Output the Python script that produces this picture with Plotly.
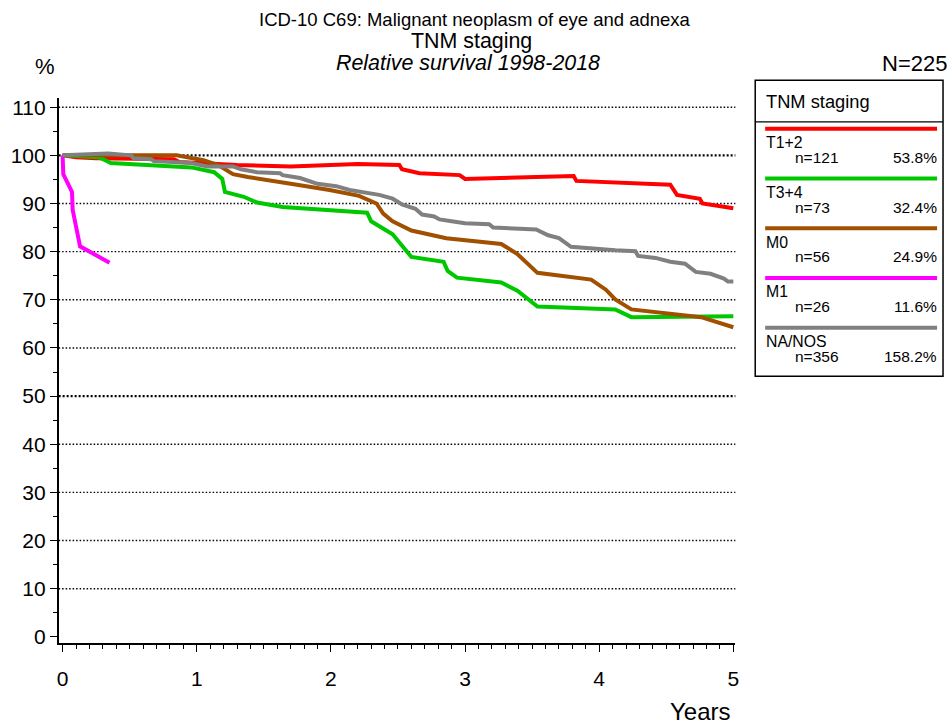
import plotly.graph_objects as go

W, H = 951, 728

# Relative survival curves (years, percent)
t12_years = [0, 0.10, 0.25, 0.83, 0.87, 1.30, 1.70, 2.20, 2.51, 2.53, 2.66, 2.96, 3.00, 3.81, 3.83, 4.27, 4.53, 4.58, 4.75, 4.77, 5.00]
t12_surv = [100, 99.6, 99.4, 99.2, 98.6, 98.0, 97.7, 98.2, 98.0, 97.1, 96.3, 95.9, 95.1, 95.7, 94.7, 94.3, 93.9, 91.8, 91.0, 90.0, 89.0]

t34_years = [0, 0.27, 0.36, 0.96, 1.13, 1.19, 1.21, 1.35, 1.45, 1.64, 2.27, 2.30, 2.46, 2.60, 2.84, 2.87, 2.94, 3.27, 3.39, 3.54, 4.12, 4.24, 5.00]
t34_surv = [100, 99.6, 98.4, 97.5, 96.5, 95.1, 92.4, 91.4, 90.2, 89.3, 88.1, 86.3, 83.6, 78.9, 77.9, 76.0, 74.6, 73.6, 71.9, 68.6, 68.0, 66.4, 66.6]

m0_years = [0, 0.85, 1.05, 1.16, 1.27, 1.38, 1.70, 1.99, 2.21, 2.34, 2.39, 2.46, 2.60, 2.86, 3.27, 3.39, 3.54, 3.94, 4.05, 4.12, 4.24, 4.76, 5.00]
m0_surv = [100, 100, 99.0, 98.0, 96.1, 95.5, 94.1, 92.8, 91.6, 90.0, 87.9, 86.3, 84.4, 82.8, 81.6, 79.5, 75.6, 74.2, 72.1, 70.1, 68.0, 66.4, 64.3]

m1_years = [0, 0.005, 0.07, 0.075, 0.13, 0.35]
m1_surv = [100, 96.1, 92.4, 88.7, 81.1, 77.7]

nanos_years = [0, 0.34, 0.51, 0.53, 0.66, 0.68, 0.96, 1.08, 1.27, 1.33, 1.45, 1.62, 1.64, 1.77, 1.90, 2.04, 2.14, 2.27, 2.36, 2.46, 2.53, 2.63, 2.68, 2.77, 2.81, 2.90, 3.00, 3.18, 3.21, 3.53, 3.62, 3.70, 3.79, 4.12, 4.27, 4.29, 4.42, 4.53, 4.64, 4.72, 4.83, 4.93, 4.96, 5.00]
nanos_surv = [100, 100.4, 100, 99.4, 99.2, 98.8, 98.4, 97.7, 97.7, 97.1, 96.5, 96.3, 95.9, 95.3, 94.1, 93.6, 92.8, 92.2, 91.8, 91.0, 89.8, 88.9, 87.7, 87.3, 86.7, 86.3, 85.9, 85.7, 85.0, 84.6, 83.4, 82.8, 81.0, 80.3, 80.1, 79.1, 78.7, 77.9, 77.5, 75.8, 75.4, 74.4, 73.8, 73.8]

group_names = ["T1+2", "T3+4", "M0", "M1", "NA/NOS"]
group_n = ["n=121", "n=73", "n=56", "n=26", "n=356"]
group_pct = ["53.8%", "32.4%", "24.9%", "11.6%", "158.2%"]
group_colors = ["#FF0000", "#00C800", "#A05000", "#FF00FF", "#808080"]
series_x = [t12_years, t34_years, m0_years, m1_years, nanos_years]
series_y = [t12_surv, t34_surv, m0_surv, m1_surv, nanos_surv]

y_grid = [10, 20, 30, 40, 50, 60, 70, 80, 90, 100, 110]
y_grid_bold = [50, 100]

FONT = "Liberation Sans, Arial, sans-serif"


def px(x):
    return x / W


def py(y):
    return 1 - y / H


fig = go.Figure()
for name, xs, ys, col in zip(group_names, series_x, series_y, group_colors):
    fig.add_trace(go.Scatter(x=xs, y=ys, mode="lines", name=name,
                             line=dict(color=col, width=4), showlegend=False,
                             hoverinfo="x+y"))

# dotted horizontal reference lines
shapes = []
for g in y_grid:
    bold = g in y_grid_bold
    shapes.append(dict(type="line", xref="x domain", yref="y", x0=0, x1=1, y0=g, y1=g,
                       line=dict(color="black", width=2.4 if bold else 1.4,
                                 dash="2px,2px" if bold else "1.5px,2px"),
                       layer="below"))

# legend panel
box_l, box_r, box_t, box_b = 758, 947, 79, 378
shapes.append(dict(type="rect", xref="paper", yref="paper", x0=px(box_l), x1=px(box_r),
                   y0=py(box_b), y1=py(box_t), line=dict(color="black", width=1.5)))
shapes.append(dict(type="line", xref="paper", yref="paper", x0=px(box_l), x1=px(box_r),
                   y0=py(121), y1=py(121), line=dict(color="black", width=1.2)))

annotations = []
annotations.append(dict(text="TNM staging", x=px(767), y=py(100), xref="paper", yref="paper",
                        xanchor="left", yanchor="middle", showarrow=False,
                        font=dict(family=FONT, size=18.3, color="black")))
for i, (name, n, pct, col) in enumerate(zip(group_names, group_n, group_pct, group_colors)):
    y0 = 128 + 50.2 * i
    shapes.append(dict(type="line", xref="paper", yref="paper", x0=px(768), x1=px(941),
                       y0=py(y0), y1=py(y0), line=dict(color=col, width=4)))
    annotations.append(dict(text=name, x=px(767), y=py(y0 + 14), xref="paper", yref="paper",
                            xanchor="left", yanchor="middle", showarrow=False,
                            font=dict(family=FONT, size=15.8, color="black")))
    annotations.append(dict(text=n, x=px(796), y=py(y0 + 29), xref="paper", yref="paper",
                            xanchor="left", yanchor="middle", showarrow=False,
                            font=dict(family=FONT, size=15.5, color="black")))
    annotations.append(dict(text=pct, x=px(943), y=py(y0 + 29), xref="paper", yref="paper",
                            xanchor="right", yanchor="middle", showarrow=False,
                            font=dict(family=FONT, size=15.5, color="black")))

# titles and axis captions
annotations += [
    dict(text="ICD-10 C69: Malignant neoplasm of eye and adnexa", x=px(476), y=py(18),
         xref="paper", yref="paper", xanchor="center", yanchor="middle", showarrow=False,
         font=dict(family=FONT, size=18.5, color="black")),
    dict(text="TNM staging", x=px(472), y=py(39), xref="paper", yref="paper",
         xanchor="center", yanchor="middle", showarrow=False,
         font=dict(family=FONT, size=21.4, color="black")),
    dict(text="<i>Relative survival 1998-2018</i>", x=px(469), y=py(62), xref="paper", yref="paper",
         xanchor="center", yanchor="middle", showarrow=False,
         font=dict(family=FONT, size=21.4, color="black")),
    dict(text="%", x=px(43), y=py(65), xref="paper", yref="paper",
         xanchor="center", yanchor="middle", showarrow=False,
         font=dict(family=FONT, size=22, color="black")),
    dict(text="N=225", x=px(953), y=py(62), xref="paper", yref="paper",
         xanchor="right", yanchor="middle", showarrow=False,
         font=dict(family=FONT, size=22, color="black")),
    dict(text="Years", x=px(736), y=py(716), xref="paper", yref="paper",
         xanchor="right", yanchor="middle", showarrow=False,
         font=dict(family=FONT, size=24, color="black")),
]

fig.update_layout(
    width=W, height=H,
    margin=dict(l=0, r=0, t=0, b=0),
    paper_bgcolor="white", plot_bgcolor="white",
    showlegend=False,
    shapes=shapes, annotations=annotations,
    xaxis=dict(domain=[px(57), px(738)], range=[-0.0296, 5.015],
               tickmode="array", tickvals=[0, 1, 2, 3, 4, 5],
               ticks="outside", ticklen=7, tickwidth=1.2, tickcolor="black",
               ticklabelstandoff=9,
               minor=dict(dtick=0.1, tick0=0, ticks="outside", ticklen=4, tickwidth=1, tickcolor="black"),
               showline=True, linecolor="black", linewidth=1.5, showgrid=False, zeroline=False,
               tickfont=dict(family=FONT, size=21, color="black")),
    yaxis=dict(domain=[py(647), py(97)], range=[-1.23, 111.9],
               tickmode="array", tickvals=[0, 10, 20, 30, 40, 50, 60, 70, 80, 90, 100, 110],
               ticks="outside", ticklen=7, tickwidth=1.2, tickcolor="black",
               minor=dict(dtick=5, tick0=0, ticks="outside", ticklen=4, tickwidth=1, tickcolor="black"),
               showline=True, linecolor="black", linewidth=1.5, showgrid=False, zeroline=False,
               tickfont=dict(family=FONT, size=21, color="black")),
)

fig.write_html("out.html")
